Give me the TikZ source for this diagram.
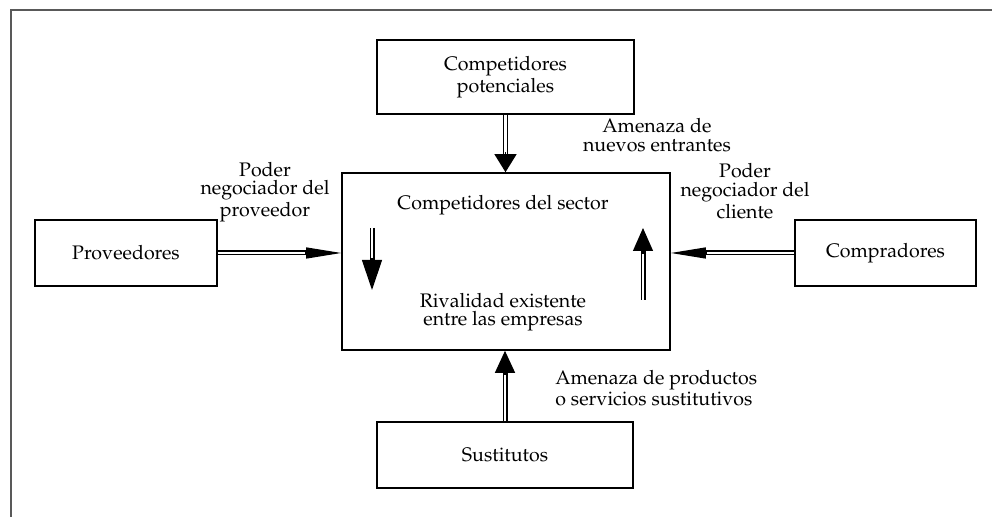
\documentclass[tikz,border=0pt]{standalone}
\usepackage[T1]{fontenc}
\usepackage{mathpazo}
\usetikzlibrary{arrows.meta}
\tikzset{
  caja/.style={draw, line width=0.8pt, inner sep=0pt, align=center, font=\fontsize{9.8}{11}\selectfont},
  texto/.style={inner sep=0pt, font=\fontsize{9.8}{9.3}\selectfont},
  doble/.style={double, double distance=1.3pt, line width=0.6pt},
  punta/.style 2 args={-{Triangle[length=#1,width=#2]}, line width=0.6pt}
}
\begin{document}
\begin{tikzpicture}[x=0.5pt, y=-0.5pt]
		\useasboundingbox (0,0) rectangle (992,517);
		\draw [line width=1pt, black!65] (992,10)--(11,10)--(11,517);
		% cajas
		\node [caja, minimum width=128.5pt, minimum height=37pt] (pot) at (505.5,77) {Competidores\\potenciales};
		\node [caja, minimum width=164pt, minimum height=88.5pt] (sector) at (506,261.5) {};
		\node [caja, minimum width=128pt, minimum height=33pt] (sust) at (505,455) {Sustitutos};
		\node [caja, minimum width=91pt, minimum height=33pt] (prov) at (126,253) {Proveedores};
		\node [caja, minimum width=90.5pt, minimum height=33pt] (comp) at (885.5,253) {Compradores};
		% textos
		\node [texto] (sectorlbl) at (503,205) {Competidores del sector};
		\node [texto, align=center] (rival) at (503,312) {Rivalidad existente\\entre las empresas};
		\node [texto, align=center] (provlbl) at (265,192) {Poder\\negociador del\\proveedor};
		\node [texto, align=center] (clilbl) at (745,191) {Poder\\negociador del\\cliente};
		\node [texto, align=center] (nuevos) at (657,135) {Amenaza de\\nuevos entrantes};
		\node [texto, align=left, anchor=west] (sustlbl) at (555,388) {Amenaza de productos\\o servicios sustitutivos};
		% flechas
		\coordinate (pe) at (prov.east -| sector.west);
		\coordinate (ce) at (comp.west -| sector.east);
		\coordinate (pn) at (pot.south |- sector.north);
		\coordinate (ss) at (sust.north |- sector.south);
		\coordinate (ba) at (372,228);
		\coordinate (bb) at (372,290);
		\coordinate (sa) at (643,300);
		\coordinate (sb) at (643,228);
		\draw [doble] (prov.east)--([xshift=-15pt]pe);
		\draw [punta={17.5pt}{5.5pt}] ([xshift=-18pt]pe)--(pe);
		\draw [doble] (comp.west)--([xshift=15pt]ce);
		\draw [punta={17.5pt}{5.5pt}] ([xshift=18pt]ce)--(ce);
		\draw [doble] (pot.south)--([yshift=7pt]pn);
		\draw [punta={9pt}{11pt}] ([yshift=10pt]pn)--(pn);
		\draw [doble] (sust.north)--([yshift=-9pt]ss);
		\draw [punta={11pt}{10pt}] ([yshift=-12pt]ss)--(ss);
		\draw [doble] (ba)--([yshift=13pt]bb);
		\draw [punta={15pt}{10pt}] ([yshift=16pt]bb)--(bb);
		\draw [doble] (sa)--([yshift=-10pt]sb);
		\draw [punta={11.5pt}{10pt}] ([yshift=-13pt]sb)--(sb);
\end{tikzpicture}
\end{document}
